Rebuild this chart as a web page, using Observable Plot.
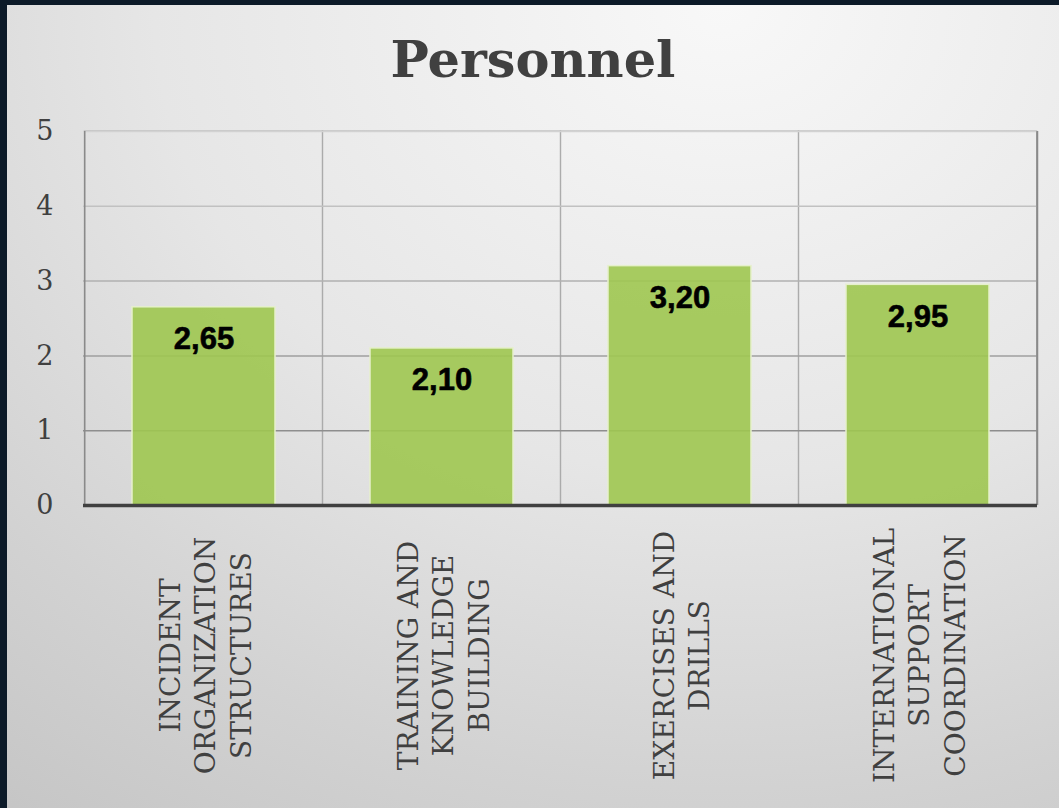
<!DOCTYPE html>
<html>
<head>
<meta charset="utf-8">
<script src="https://cdn.jsdelivr.net/npm/d3@7"></script>
<script src="https://cdn.jsdelivr.net/npm/@observablehq/plot@0.6"></script>
<style>
  html, body { margin: 0; padding: 0; }
  body { width: 1059px; height: 808px; background: #0c1a28; position: relative; overflow: hidden; }
  #panel { position: absolute; left: 7px; top: 5px; right: 0; bottom: 0;
    background: radial-gradient(ellipse 120% 130% at 68% 0%, #f8f8f8 0%, #e6e6e6 45%, #d2d2d2 75%, #c3c3c3 100%); }
  #title { position: absolute; left: 7px; right: 0; top: 29px; text-align: center;
    font-family: "DejaVu Serif", serif; font-weight: bold; font-size: 51px; color: #404040; }
  #chart { position: absolute; left: 0; top: 0; }
</style>
</head>
<body>
<div id="panel"></div>
<div id="title">Personnel</div>
<div id="chart"></div>
<script>
const categories = [
  "INCIDENT\nORGANIZATION\nSTRUCTURES",
  "TRAINING AND\nKNOWLEDGE\nBUILDING",
  "EXERCISES AND\nDRILLS",
  "INTERNATIONAL\nSUPPORT\nCOORDINATION"
];
const values = [2.65, 2.10, 3.20, 2.95];
const yTicks = [0, 1, 2, 3, 4, 5];

const data = categories.map((c, i) => ({cat: c, value: values[i]}));

const W = 1059, H = 808;
const mL = 83, mR = 22, mT = 131, mB = 303;
const padOuter = 0.2, padInner = 0.4;
const step = (W - mL - mR) / (categories.length - padInner + 2 * padOuter);
const bandPad = step * padOuter;
const yMax = d3.max(yTicks);
const gridColor = d3.interpolateRgb("#8e8e8e", "#d2d2d2");
const serif = "'DejaVu Serif', serif";

const chart = Plot.plot({
  width: W,
  height: H,
  marginLeft: mL,
  marginRight: mR,
  marginTop: mT,
  marginBottom: mB,
  style: {background: "transparent", overflow: "visible", fontFamily: serif},
  x: {domain: categories, paddingInner: padInner, paddingOuter: padOuter, axis: null},
  y: {domain: [0, yMax], axis: null},
  marks: [
    Plot.barY(categories, {x: d => d, y1: 0, y2: yMax, fill: "none", stroke: "#a9a9a9", strokeWidth: 1,
      insetLeft: -bandPad, insetRight: -bandPad}),
    Plot.ruleY(yTicks.filter(t => t > 0), {y: d => d, stroke: d => gridColor((d - 1) / (yMax - 1)), strokeWidth: 1.5}),
    Plot.ruleX(categories.slice(0, 1), {x: d => d, y1: 0, y2: yMax, dx: -step / 2, stroke: "#8a8a8a", strokeWidth: 1.5}),
    Plot.ruleX(categories.slice(-1), {x: d => d, y1: 0, y2: yMax, dx: step / 2, stroke: "#8a8a8a", strokeWidth: 2}),
    Plot.barY(data, {x: "cat", y: "value", fill: "#9fc650", fillOpacity: 0.9, stroke: "#e6f0cc", strokeWidth: 1.5}),
    Plot.text(data, {x: "cat", y: "value", text: d => d.value.toFixed(2).replace(".", ","), dy: 32,
      fontFamily: "'Liberation Sans', Arial, sans-serif", fontWeight: "bold", fontSize: 31, fill: "#000",
      stroke: "#000", strokeWidth: 0.6, lineAnchor: "middle"}),
    Plot.ruleY([0], {stroke: "#404040", strokeWidth: 3.5}),
    Plot.axisY(yTicks, {tickSize: 0, tickPadding: 30, tickFormat: d3.format("d"), fontSize: 27,
      fontFamily: serif, fill: "#404040", label: null}),
    Plot.text(categories, {x: d => d, frameAnchor: "bottom", dy: 150, rotate: -90, text: d => d,
      textAnchor: "middle", lineAnchor: "middle", lineHeight: 1.28, fontSize: 28,
      fontFamily: serif, fill: "#404040"})
  ]
});
document.getElementById("chart").appendChild(chart);
</script>
</body>
</html>
